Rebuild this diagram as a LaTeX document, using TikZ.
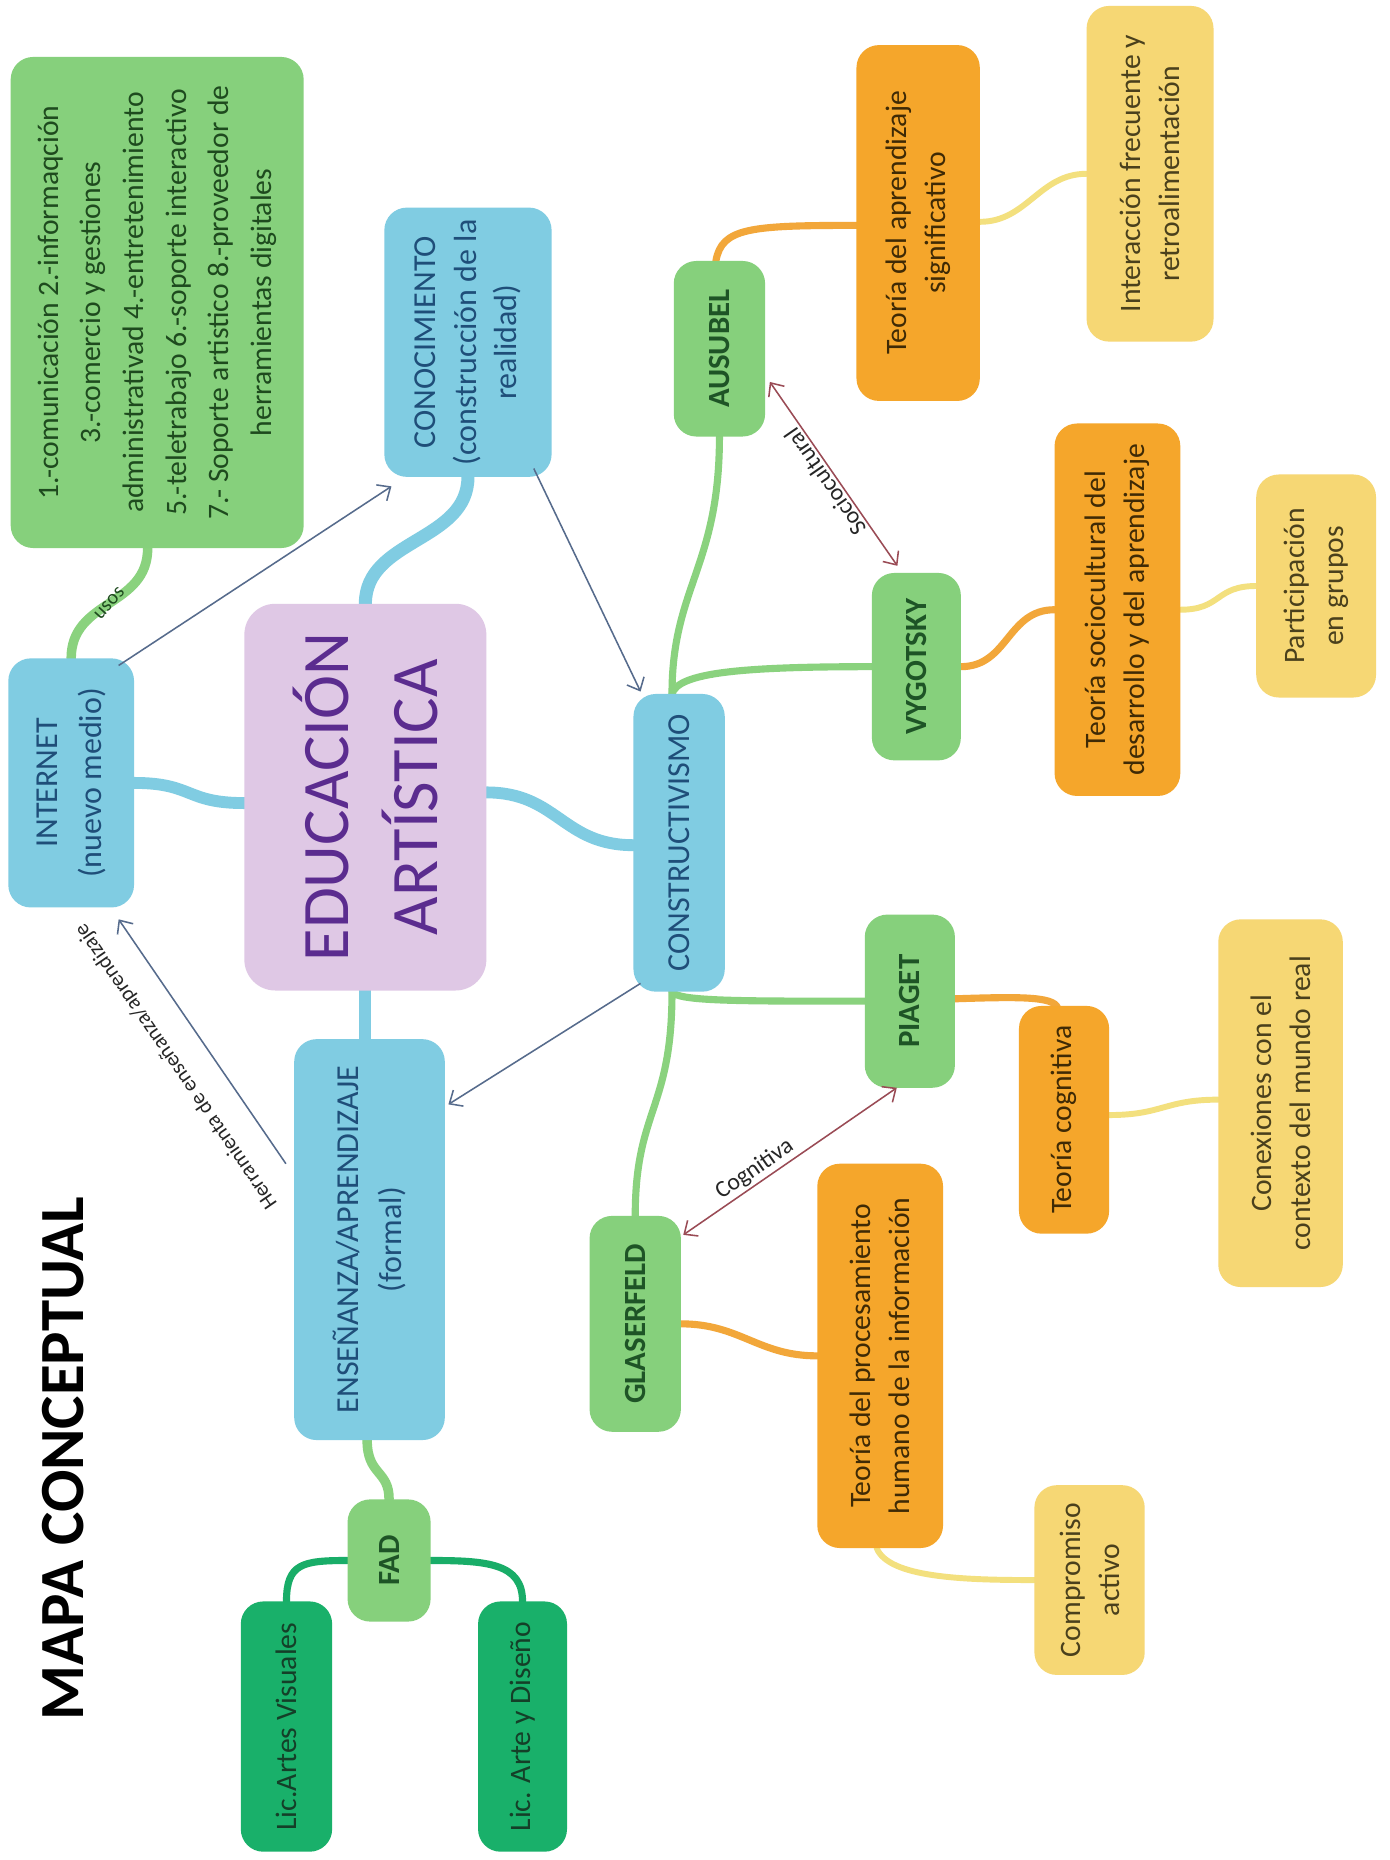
\documentclass[tikz,border=0pt]{standalone}
\usepackage{fontspec}
\setmainfont{Carlito}
\usetikzlibrary{arrows.meta,calc,backgrounds}
\definecolor{blueFill}{HTML}{80CCE2}
\definecolor{blueText}{HTML}{1F4E79}
\definecolor{lavFill}{HTML}{DFC8E5}
\definecolor{lavText}{HTML}{5B2C8F}
\definecolor{lgFill}{HTML}{86D07C}
\definecolor{lgText}{HTML}{1E5426}
\definecolor{usosText}{HTML}{1E4A1E}
\definecolor{dgFill}{HTML}{19B06A}
\definecolor{dgText}{HTML}{143F28}
\definecolor{orFill}{HTML}{F5A62B}
\definecolor{orText}{HTML}{3F2A05}
\definecolor{yeFill}{HTML}{F6D774}
\definecolor{yeText}{HTML}{4A401C}
\definecolor{blueCon}{HTML}{80CCE2}
\definecolor{greenCon}{HTML}{8AD27E}
\definecolor{dgCon}{HTML}{19AD68}
\definecolor{orCon}{HTML}{F2A73A}
\definecolor{yeCon}{HTML}{F3E07E}
\definecolor{slate}{HTML}{566B8C}
\definecolor{redbrown}{HTML}{9A4B55}
\newcommand\fblue{\fontsize{27}{37}\selectfont}
\newcommand\fconoc{\fontsize{27}{34}\selectfont}
\newcommand\fname{\bfseries\fontsize{26}{31}\selectfont}
\newcommand\fbx{\fontsize{25}{33}\selectfont}
\newcommand\fusos{\fontsize{25}{36}\selectfont}
\newcommand\flbl{\fontsize{20}{24}\selectfont}
\begin{document}
\begin{tikzpicture}[x=1pt,y=-1pt,
  box/.style={rounded corners=19pt, inner sep=0pt, outer sep=0pt},
  rt/.style={rotate=90, align=center, inner sep=0pt},
  con/.style={line cap=round, line join=round},
  bluecon/.style={con, draw=blueCon, line width=10pt},
  greencon/.style={con, draw=greenCon, line width=6pt},
  dgcon/.style={con, draw=dgCon, line width=6pt},
  orcon/.style={con, draw=orCon, line width=6pt},
  yecon/.style={con, draw=yeCon, line width=5pt},
  thinarrow/.style={draw=slate, line width=1.3pt, -{Straight Barb[length=9pt,width=16pt]}},
  redarrow/.style={draw=redbrown, line width=1.3pt, {Straight Barb[length=9pt,width=16pt]}-{Straight Barb[length=9pt,width=16pt]}},
  lbl/.style={font=\flbl, text=black!85, inner sep=2pt}]
\useasboundingbox (0,0) rectangle (1171,1568);

% ---------- boxes ----------
\node[box, fill=lgFill, minimum width=247pt, minimum height=414pt] (usos) at (132.5,255) {};
\node[rt, text=usosText, font=\fusos] (usos-t) at (usos) {1.-comunicación 2.-informaqción\\3.-comercio y gestiones\\administrativad 4.-entretenimiento\\5.-teletrabajo 6.-soporte interactivo\\7.- Soporte artistico 8.-proveedor de\\herramientas digitales};

\node[box, fill=blueFill, minimum width=141pt, minimum height=227pt] (conoc) at (394.5,288.5) {};
\node[rt, text=blueText, font=\fconoc] (conoc-t) at (conoc) {CONOCIMIENTO\\(construcción de la\\realidad)};

\node[box, fill=blueFill, minimum width=106pt, minimum height=210pt] (internet) at (60,660) {};
\node[rt, text=blueText, font=\fblue] (internet-t) at (internet) {INTERNET\\(nuevo medio)};

\node[box, rounded corners=26pt, fill=lavFill, minimum width=204pt, minimum height=326pt] (edu) at (308,672) {};
\node[rt, text=lavText, font=\fontsize{56}{75}\selectfont] (edu-t) at (edu) {EDUCACIÓN\\ARTÍSTICA};

\node[box, fill=blueFill, minimum width=77pt, minimum height=251pt] (cons) at (572.5,710.5) {};
\node[rt, text=blueText, font=\fblue] (cons-t) at (cons) {CONSTRUCTIVISMO};

\node[box, fill=blueFill, minimum width=127pt, minimum height=338pt] (ens) at (311.5,1045) {};
\node[rt, text=blueText, font=\fblue] (ens-t) at (ens) {ENSEÑANZA/APRENDIZAJE\\(formal)};

\node[box, fill=lgFill, minimum width=70pt, minimum height=103pt] (fad) at (328,1315.5) {};
\node[rt, text=lgText, font=\fname] (fad-t) at (fad) {FAD};

\node[box, fill=dgFill, minimum width=77pt, minimum height=211pt] (lav) at (241.5,1455.5) {};
\node[rt, text=dgText, font=\fbx] (lav-t) at (lav) {Lic.Artes Visuales};

\node[box, fill=dgFill, minimum width=75pt, minimum height=211pt] (lad) at (440.5,1455.5) {};
\node[rt, text=dgText, font=\fbx] (lad-t) at (lad) {Lic. Arte y Diseño};

\node[rt, text=black, font=\bfseries\fontsize{53}{60}\selectfont] (title) at (53,1229.5) {MAPA CONCEPTUAL};

\node[box, fill=lgFill, minimum width=77pt, minimum height=148pt] (ausubel) at (606.5,294) {};
\node[rt, text=lgText, font=\fname] (ausubel-t) at (ausubel) {AUSUBEL};

\node[box, fill=orFill, minimum width=104pt, minimum height=300pt] (tsig) at (774,188) {};
\node[rt, text=orText, font=\fbx] (tsig-t) at (tsig) {Teoría del aprendizaje\\significativo};

\node[box, fill=yeFill, minimum width=107pt, minimum height=283pt] (inter) at (969.5,146.5) {};
\node[rt, text=yeText, font=\fbx] (inter-t) at (inter) {Interacción frecuente y\\retroalimentación};

\node[box, fill=lgFill, minimum width=75pt, minimum height=158pt] (vyg) at (772.5,562) {};
\node[rt, text=lgText, font=\fname] (vyg-t) at (vyg) {VYGOTSKY};

\node[box, fill=orFill, minimum width=106pt, minimum height=314pt] (tsoc) at (942,514) {};
\node[rt, text=orText, font=\fbx] (tsoc-t) at (tsoc) {Teoría sociocultural del\\desarrollo y del aprendizaje};

\node[box, fill=yeFill, minimum width=101pt, minimum height=188pt] (part) at (1109.5,494) {};
\node[rt, text=yeText, font=\fbx] (part-t) at (part) {Participación\\en grupos};

\node[box, fill=lgFill, minimum width=76pt, minimum height=146pt] (piaget) at (767,844) {};
\node[rt, text=lgText, font=\fname] (piaget-t) at (piaget) {PIAGET};

\node[box, fill=orFill, minimum width=76pt, minimum height=192pt] (tcog) at (897,944) {};
\node[rt, text=orText, font=\fbx] (tcog-t) at (tcog) {Teoría cognitiva};

\node[box, fill=yeFill, minimum width=105pt, minimum height=310pt] (conex) at (1079.5,930) {};
\node[rt, text=yeText, font=\fbx] (conex-t) at (conex) {Conexiones con el\\contexto del mundo real};

\node[box, fill=lgFill, minimum width=77pt, minimum height=182pt] (glas) at (535.5,1116) {};
\node[rt, text=lgText, font=\fname] (glas-t) at (glas) {GLASERFELD};

\node[box, fill=orFill, minimum width=106pt, minimum height=324pt] (tproc) at (742,1143) {};
\node[rt, text=orText, font=\fbx] (tproc-t) at (tproc) {Teoría del procesamiento\\humano de la información};

\node[box, fill=yeFill, minimum width=93pt, minimum height=160pt] (comp) at (918.5,1332) {};
\node[rt, text=yeText, font=\fbx] (comp-t) at (comp) {Compromiso\\activo};

% ---------- branches ----------
\begin{scope}[on background layer]
\fill[white] (0,0) rectangle (1171,1568);
\draw[bluecon, line width=11pt] (edu.north) .. controls +(0,-55) and +(0,55) .. (conoc.south);
\draw[bluecon] (internet.east) .. controls +(50,0) and +(-50,0) .. ($(edu.west)+(0,5)$);
\draw[bluecon] ($(edu.east)+(0,-4)$) .. controls +(60,0) and +(-60,0) .. ($(cons.west)+(0,2)$);
\draw[bluecon] (edu.south) -- (ens.north -| edu.south);
\draw[greencon, line width=8pt] (internet.north) .. controls +(0,-50) and +(0,50) .. ($(usos.south)+(-8,0)$)
  node[pos=0.5, rotate=48, font=\fontsize{17}{20}\selectfont, text=usosText, inner sep=1pt] (usoslbl) {usos};
\draw[greencon, line width=8pt] ($(ens.south)+(-2,0)$) .. controls +(0,30) and +(0,-25) .. (fad.north);
\draw[dgcon] (fad.west) .. controls +(-38,0) and +(0,-32) .. (lav.north);
\draw[dgcon] (fad.east) .. controls +(48,0) and +(0,-32) .. (lad.north);
\draw[greencon] ($(cons.north)+(-6,0)$) .. controls +(0,-90) and +(0,110) .. (ausubel.south);
\draw[greencon] ($(cons.north)+(-6,0)$) .. controls +(5,-18) and +(-110,0) .. (vyg.west);
\draw[greencon] ($(cons.south)+(-6,0)$) .. controls +(5,8) and +(-110,0) .. (piaget.west);
\draw[greencon] ($(cons.south)+(-6,0)$) .. controls +(0,100) and +(0,-90) .. (glas.north);
\draw[orcon] ($(ausubel.north)+(-3,0)$) .. controls +(5,-28) and +(-90,0) .. ($(tsig.west)+(0,2)$);
\draw[yecon] ($(tsig.east)+(0,-1)$) .. controls +(40,0) and +(-40,0) .. (inter.west);
\draw[orcon] (vyg.east) .. controls +(40,0) and +(-40,0) .. (tsoc.west);
\draw[yecon] (tsoc.east) .. controls +(35,0) and +(-35,0) .. (part.west);
\draw[orcon] ($(piaget.east)+(0,-2)$) .. controls +(60,-2) and +(0,-12) .. ($(tcog.north)+(-5,4)$);
\draw[yecon] ($(tcog.east)+(0,-4)$) .. controls +(45,0) and +(-45,0) .. ($(conex.west)+(0,-3)$);
\draw[orcon] (glas.east) .. controls +(50,0) and +(-50,0) .. (tproc.west);
\draw[yecon] ($(tproc.south)+(-3,0)$) .. controls +(10,25) and +(-60,0) .. (comp.west);
\end{scope}

% ---------- thin arrows ----------
\draw[thinarrow] ($(internet.north east)+(-13,6)$) -- ($(conoc.south west)+(6,8)$);
\draw[thinarrow] ($(conoc.south east)+(-15,-7)$) -- ($(cons.north west)+(6,-2)$);
\draw[thinarrow] ($(cons.south west)+(6,-7)$) -- ($(ens.north east)+(3,55)$);
\draw[thinarrow] ($(ens.north west)+(-7,105)$) -- ($(internet.south east)+(-13,10)$)
  node[pos=0.48, rotate=124.5, anchor=south, lbl, font=\fontsize{18}{22}\selectfont, outer sep=20pt] (herr) {Herramienta de enseñanza/aprendizaje};
\draw[redarrow] ($(ausubel.east)+(4,28)$) -- ($(vyg.north)+(-16,-6)$)
  node[pos=0.51, rotate=124.6, anchor=south, lbl] (socio) {Sociocultural};
\draw[redarrow] ($(glas.north east)+(2,16)$) -- ($(piaget.south west)+(27,0)$)
  node[pos=0.37, rotate=34.8, anchor=south, lbl] (cogn) {Cognitiva};
\end{tikzpicture}
\end{document}
